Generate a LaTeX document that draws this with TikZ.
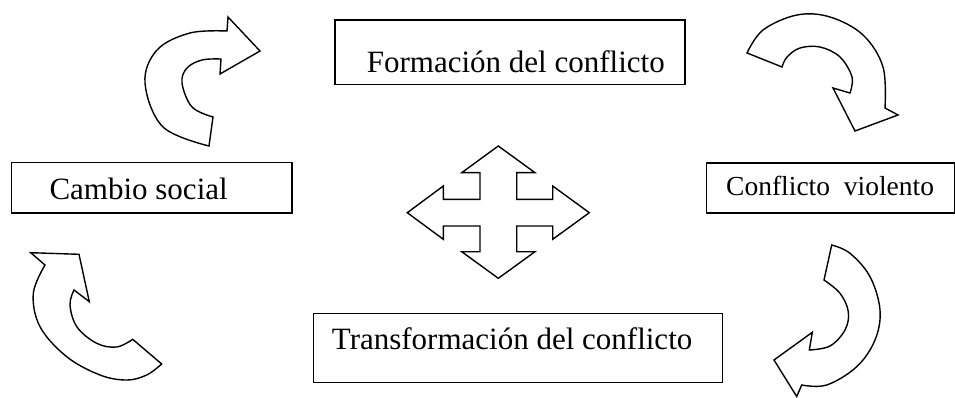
\documentclass[tikz,border=0pt]{standalone}
\usepackage{fontspec}
\setmainfont{Liberation Serif}
\begin{document}
\begin{tikzpicture}[x=1pt,y=-1pt,
  labelbox/.style={draw=black, line width=1.5pt, rectangle, inner sep=0pt, anchor=north west},
  labeltext/.style={anchor=base west, inner sep=0pt, font=\fontsize{31}{37}\selectfont},
  shapeline/.style={draw=black, line width=1.4pt, line join=miter, fill=white}]
\useasboundingbox (0,0) rectangle (955,398);

% boxes
\node[labelbox, minimum width=350.3pt, minimum height=64.7pt] (bformacion) at (334,19.3) {};
\node[labelbox, minimum width=280.3pt, minimum height=50.6pt] (bcambio) at (10.7,161.7) {};
\node[labelbox, minimum width=248.3pt, minimum height=50pt] (bviolento) at (705.7,162.2) {};
\node[labelbox, minimum width=409pt, minimum height=69pt] (btransf) at (312.7,312.7) {};

% texts
\node[labeltext] (tformacion) at (366.7,72.7) {Formación del conflicto};
\node[labeltext] (tcambio) at (49.3,200) {Cambio social};
\node[labeltext, font=\fontsize{27.5}{33}\selectfont] (tviolento) at (726,196) {Conflicto\ \ violento};
\node[labeltext] (ttransf) at (331.7,349.3) {Transformación del conflicto};

% top-left curved arrow
\path[shapeline] (209,146) -- (213,117)
  -- plot[smooth, tension=0.6] coordinates {(213,117) (192,107) (182,83) (187,68) (202,60) (221,59)}
  -- (220,74) -- (260,51) -- (228,17) -- (227,31)
  -- plot[smooth, tension=0.6] coordinates {(227,31) (190,33) (157,50) (145,83) (163,127) (209,146)}
  -- cycle;

% top-right curved arrow
\path[shapeline] (747,53)
  -- plot[smooth, tension=0.6] coordinates {(747,53) (763,30) (797,15) (830,17) (863,35) (883,67) (885,108)}
  -- (898,115) -- (855,131) -- (833,88) -- (850,93)
  -- plot[smooth, tension=0.6] coordinates {(850,93) (852,77) (840,57) (820,47) (800,48) (787,57) (782,67)}
  -- cycle;

% bottom-left curved arrow
\path[shapeline] (30.7,252.7) -- (79,254.3) -- (89.3,301.7) -- (74,290)
  -- plot[smooth, tension=0.6] coordinates {(74,290) (70,305) (77,327) (96.7,343.3) (116.7,347) (132.7,339.3)}
  -- (161.7,364)
  -- plot[smooth, tension=0.6] coordinates {(161.7,364) (146.7,375) (126.7,380) (100,375) (66.7,356.7) (40,326.7) (33.3,293.3) (45,265)}
  -- cycle;

% bottom-right curved arrow
\path[shapeline] (831.7,245) -- (824,280)
  -- plot[smooth, tension=0.6] coordinates {(824,280) (840,293.3) (848.3,311.7) (845,330) (830,346) (809.3,350)}
  -- (812.3,332.3) -- (774,360) -- (796.7,396.5) -- (801.7,385)
  -- plot[smooth, tension=0.6] coordinates {(801.7,385) (826.7,385) (856.7,366.7) (875,340) (880,310) (870,276.7) (850,253.3) (831.7,245)}
  -- cycle;

% central four-way arrow
\path[shapeline] (498.3,146) -- (535,172.7) -- (516.7,172.7) -- (516.7,199.3)
  -- (552.7,199.3) -- (552.7,186) -- (589.3,212.7) -- (552.7,239.3) -- (552.7,226)
  -- (516.7,226) -- (516.7,251.7) -- (535,251.7) -- (498.3,278.3) -- (461.7,251.7)
  -- (480,251.7) -- (480,226) -- (443.3,226) -- (443.3,239.3) -- (407.3,212.7)
  -- (443.3,186) -- (443.3,199.3) -- (480,199.3) -- (480,172.7) -- (461.7,172.7) -- cycle;
\end{tikzpicture}
\end{document}
